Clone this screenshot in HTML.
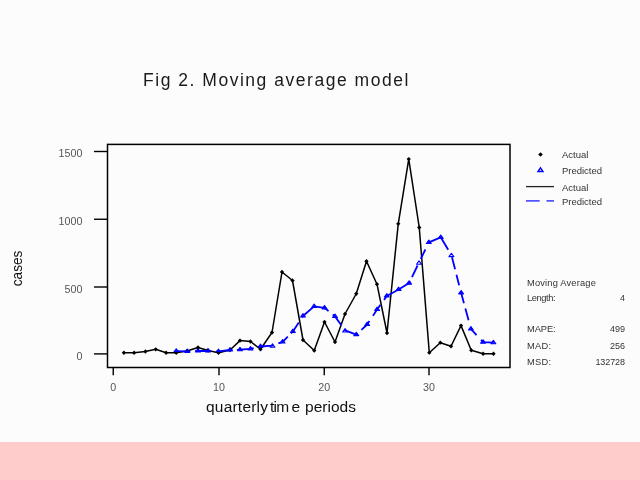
<!DOCTYPE html>
<html><head><meta charset="utf-8"><title>Fig 2</title>
<style>
html,body{margin:0;padding:0}
body{width:640px;height:480px;position:relative;overflow:hidden;background:#fcfcfc;font-family:"Liberation Sans",sans-serif}
#band{position:absolute;left:0;top:442px;width:640px;height:38px;background:#ffcccc}
</style></head><body>
<div id="band"></div>
<svg width="640" height="480" viewBox="0 0 640 480" style="position:absolute;left:0;top:0;will-change:transform;font-family:'Liberation Sans',sans-serif">
<rect x="107.5" y="144.4" width="402.5" height="223.1" fill="none" stroke="#000" stroke-width="1.5"/>
<line x1="94" y1="151.5" x2="107.5" y2="151.5" stroke="#000" stroke-width="1.4"/>
<line x1="94" y1="219.25" x2="107.5" y2="219.25" stroke="#000" stroke-width="1.4"/>
<line x1="94" y1="287" x2="107.5" y2="287" stroke="#000" stroke-width="1.4"/>
<line x1="94" y1="353.9" x2="107.5" y2="353.9" stroke="#000" stroke-width="1.4"/>
<line x1="113.25" y1="367.5" x2="113.25" y2="375.3" stroke="#000" stroke-width="1.4"/>
<line x1="219" y1="367.5" x2="219" y2="375.3" stroke="#000" stroke-width="1.4"/>
<line x1="324.25" y1="367.5" x2="324.25" y2="375.3" stroke="#000" stroke-width="1.4"/>
<line x1="429" y1="367.5" x2="429" y2="375.3" stroke="#000" stroke-width="1.4"/>
<text x="58.60" y="157.40" font-size="11.5" fill="#555" textLength="23.80" lengthAdjust="spacingAndGlyphs">1500</text>
<text x="58.60" y="225.15" font-size="11.5" fill="#555" textLength="23.80" lengthAdjust="spacingAndGlyphs">1000</text>
<text x="64.55" y="292.90" font-size="11.5" fill="#555" textLength="17.85" lengthAdjust="spacingAndGlyphs">500</text>
<text x="76.45" y="359.80" font-size="11.5" fill="#555" textLength="5.95" lengthAdjust="spacingAndGlyphs">0</text>
<text x="110.28" y="390.6" font-size="11.5" fill="#555" textLength="5.95" lengthAdjust="spacingAndGlyphs">0</text>
<text x="213.05" y="390.6" font-size="11.5" fill="#555" textLength="11.90" lengthAdjust="spacingAndGlyphs">10</text>
<text x="318.30" y="390.6" font-size="11.5" fill="#555" textLength="11.90" lengthAdjust="spacingAndGlyphs">20</text>
<text x="423.05" y="390.6" font-size="11.5" fill="#555" textLength="11.90" lengthAdjust="spacingAndGlyphs">30</text>
<g fill="#000">
<path d="M123.90,350.60L126.05,352.75L123.90,354.90L121.75,352.75Z"/>
<path d="M134.10,350.60L136.25,352.75L134.10,354.90L131.95,352.75Z"/>
<path d="M145.40,349.35L147.55,351.50L145.40,353.65L143.25,351.50Z"/>
<path d="M155.75,347.15L157.90,349.30L155.75,351.45L153.60,349.30Z"/>
<path d="M166.10,350.60L168.25,352.75L166.10,354.90L163.95,352.75Z"/>
<path d="M176.25,350.60L178.40,352.75L176.25,354.90L174.10,352.75Z"/>
<path d="M187.00,348.85L189.15,351.00L187.00,353.15L184.85,351.00Z"/>
<path d="M198.00,345.35L200.15,347.50L198.00,349.65L195.85,347.50Z"/>
<path d="M208.00,348.35L210.15,350.50L208.00,352.65L205.85,350.50Z"/>
<path d="M218.50,350.60L220.65,352.75L218.50,354.90L216.35,352.75Z"/>
<path d="M230.00,347.85L232.15,350.00L230.00,352.15L227.85,350.00Z"/>
<path d="M240.00,338.45L242.15,340.60L240.00,342.75L237.85,340.60Z"/>
<path d="M250.50,339.35L252.65,341.50L250.50,343.65L248.35,341.50Z"/>
<path d="M260.50,347.10L262.65,349.25L260.50,351.40L258.35,349.25Z"/>
<path d="M272.00,330.35L274.15,332.50L272.00,334.65L269.85,332.50Z"/>
<path d="M282.00,269.85L284.15,272.00L282.00,274.15L279.85,272.00Z"/>
<path d="M292.50,278.35L294.65,280.50L292.50,282.65L290.35,280.50Z"/>
<path d="M303.00,337.85L305.15,340.00L303.00,342.15L300.85,340.00Z"/>
<path d="M314.25,348.35L316.40,350.50L314.25,352.65L312.10,350.50Z"/>
<path d="M324.50,319.85L326.65,322.00L324.50,324.15L322.35,322.00Z"/>
<path d="M335.00,339.85L337.15,342.00L335.00,344.15L332.85,342.00Z"/>
<path d="M345.00,311.85L347.15,314.00L345.00,316.15L342.85,314.00Z"/>
<path d="M356.25,291.60L358.40,293.75L356.25,295.90L354.10,293.75Z"/>
<path d="M366.50,259.10L368.65,261.25L366.50,263.40L364.35,261.25Z"/>
<path d="M377.00,282.05L379.15,284.20L377.00,286.35L374.85,284.20Z"/>
<path d="M387.00,330.85L389.15,333.00L387.00,335.15L384.85,333.00Z"/>
<path d="M398.25,221.65L400.40,223.80L398.25,225.95L396.10,223.80Z"/>
<path d="M408.75,156.95L410.90,159.10L408.75,161.25L406.60,159.10Z"/>
<path d="M419.25,225.35L421.40,227.50L419.25,229.65L417.10,227.50Z"/>
<path d="M429.30,350.55L431.45,352.70L429.30,354.85L427.15,352.70Z"/>
<path d="M440.30,340.55L442.45,342.70L440.30,344.85L438.15,342.70Z"/>
<path d="M451.00,344.10L453.15,346.25L451.00,348.40L448.85,346.25Z"/>
<path d="M461.00,323.45L463.15,325.60L461.00,327.75L458.85,325.60Z"/>
<path d="M471.25,348.10L473.40,350.25L471.25,352.40L469.10,350.25Z"/>
<path d="M483.10,351.60L485.25,353.75L483.10,355.90L480.95,353.75Z"/>
<path d="M493.50,351.60L495.65,353.75L493.50,355.90L491.35,353.75Z"/>
</g>
<g fill="#0000ff" stroke="#0000ff" stroke-width="1.1" stroke-linejoin="round">
<path d="M176.25,348.75L178.70,352.15L173.80,352.15Z" fill-opacity="0.75"/>
<path d="M187.30,349.05L189.75,352.45L184.85,352.45Z" fill-opacity="0.75"/>
<path d="M198.00,348.65L200.45,352.05L195.55,352.05Z" fill-opacity="0.75"/>
<path d="M208.00,348.65L210.45,352.05L205.55,352.05Z" fill-opacity="0.75"/>
<path d="M218.50,349.05L220.95,352.45L216.05,352.45Z" fill-opacity="0.75"/>
<path d="M230.00,347.65L232.45,351.05L227.55,351.05Z" fill-opacity="0.75"/>
<path d="M240.00,347.35L242.45,350.75L237.55,350.75Z" fill-opacity="0.75"/>
<path d="M250.50,346.55L252.95,349.95L248.05,349.95Z" fill-opacity="0.75"/>
<path d="M260.50,344.15L262.95,347.55L258.05,347.55Z" fill-opacity="0.75"/>
<path d="M272.50,343.85L274.95,347.25L270.05,347.25Z" fill-opacity="0.05"/>
<path d="M282.60,339.55L285.05,342.95L280.15,342.95Z" fill-opacity="0.75"/>
<path d="M292.90,329.15L295.35,332.55L290.45,332.55Z" fill-opacity="0.75"/>
<path d="M303.00,313.65L305.45,317.05L300.55,317.05Z" fill-opacity="0.75"/>
<path d="M314.10,304.05L316.55,307.45L311.65,307.45Z" fill-opacity="0.75"/>
<path d="M324.50,305.45L326.95,308.85L322.05,308.85Z" fill-opacity="0.75"/>
<path d="M335.00,314.05L337.45,317.45L332.55,317.45Z" fill-opacity="0.75"/>
<path d="M345.10,328.65L347.55,332.05L342.65,332.05Z" fill-opacity="0.05"/>
<path d="M356.30,332.25L358.75,335.65L353.85,335.65Z" fill-opacity="0.75"/>
<path d="M367.20,322.15L369.65,325.55L364.75,325.55Z" fill-opacity="0.75"/>
<path d="M377.10,307.15L379.55,310.55L374.65,310.55Z" fill-opacity="0.75"/>
<path d="M386.80,293.65L389.25,297.05L384.35,297.05Z" fill-opacity="0.75"/>
<path d="M398.60,287.15L401.05,290.55L396.15,290.55Z" fill-opacity="0.75"/>
<path d="M409.10,280.75L411.55,284.15L406.65,284.15Z" fill-opacity="0.75"/>
<path d="M419.00,260.85L421.45,264.25L416.55,264.25Z" fill-opacity="0.05"/>
<path d="M428.80,240.05L431.25,243.45L426.35,243.45Z" fill-opacity="0.75"/>
<path d="M440.75,234.95L443.20,238.35L438.30,238.35Z" fill-opacity="0.75"/>
<path d="M451.40,253.25L453.85,256.65L448.95,256.65Z" fill-opacity="0.05"/>
<path d="M461.10,290.45L463.55,293.85L458.65,293.85Z" fill-opacity="0.75"/>
<path d="M470.90,326.55L473.35,329.95L468.45,329.95Z" fill-opacity="0.75"/>
<path d="M483.10,339.75L485.55,343.15L480.65,343.15Z" fill-opacity="0.75"/>
<path d="M493.40,340.35L495.85,343.75L490.95,343.75Z" fill-opacity="0.75"/>
</g>
<polyline points="123.90,352.75 134.10,352.75 145.40,351.50 155.75,349.30 166.10,352.75 176.25,352.75 187.00,351.00 198.00,347.50 208.00,350.50 218.50,352.75 230.00,350.00 240.00,340.60 250.50,341.50 260.50,349.25 272.00,332.50 282.00,272.00 292.50,280.50 303.00,340.00 314.25,350.50 324.50,322.00 335.00,342.00 345.00,314.00 356.25,293.75 366.50,261.25 377.00,284.20 387.00,333.00 398.25,223.80 408.75,159.10 419.25,227.50 429.30,352.70 440.30,342.70 451.00,346.25 461.00,325.60 471.25,350.25 483.10,353.75 493.50,353.75" fill="none" stroke="#000" stroke-width="1.5" stroke-linejoin="round"/>
<polyline points="176.25,351.10 187.30,351.40 198.00,351.00 208.00,351.00 218.50,351.40 230.00,350.00 240.00,349.70 250.50,348.90 260.50,346.50 272.50,345.60 282.60,341.90 292.90,331.50 303.00,316.00 314.10,306.40 324.50,307.80 335.00,316.40 345.10,330.40 356.30,334.60 367.20,324.50 377.10,309.50 386.80,296.00 398.60,289.50 409.10,283.10 419.00,262.60 428.80,242.40 440.75,237.30 451.40,255.00 461.10,292.80 470.90,328.90 483.10,342.10 493.40,342.70" fill="none" stroke="#0000ff" stroke-width="1.8" stroke-dasharray="14.07 4.70 15.97 5.01 16.62 4.40 16.91 4.85 15.22 5.19 11.95 4.46 13.55 5.99 32.09 5.46 13.78 5.39 14.59 5.32 11.96 6.43 13.17 6.18 32.63 4.51 12.93 7.24 10.56 6.89 28.44 8.57 12.44 5.53 10.86 6.67 12.06 5.42 12.23 7.91 9.28 6.62 18.31 0.00" stroke-linejoin="round"/>
<g fill="#000"><path d="M540.50,152.20L542.80,154.50L540.50,156.80L538.20,154.50Z"/></g>
<g fill="#fff" stroke="#0000ff" stroke-width="1.4"><path d="M540.50,167.80L543.00,171.50L538.00,171.50Z"/></g>
<line x1="526" y1="186.6" x2="554" y2="186.6" stroke="#222" stroke-width="1.3"/>
<line x1="526" y1="200.9" x2="539.7" y2="200.9" stroke="#2a2aff" stroke-width="1.4"/>
<line x1="546.5" y1="200.9" x2="554" y2="200.9" stroke="#2a2aff" stroke-width="1.4"/>
<text x="562" y="158.4" font-size="9.5" fill="#333" textLength="26.4" lengthAdjust="spacing">Actual</text>
<text x="562" y="174" font-size="9.5" fill="#333" textLength="40" lengthAdjust="spacing">Predicted</text>
<text x="562" y="190.9" font-size="9.5" fill="#333" textLength="26.4" lengthAdjust="spacing">Actual</text>
<text x="562" y="204.6" font-size="9.5" fill="#333" textLength="40" lengthAdjust="spacing">Predicted</text>
<text x="527" y="285.9" font-size="9.3" fill="#333" textLength="68.8" lengthAdjust="spacing">Moving Average</text>
<text x="527" y="300.9" font-size="9.3" fill="#333" textLength="28.6" lengthAdjust="spacing">Length:</text>
<text x="625" y="300.9" font-size="9" fill="#333" text-anchor="end">4</text>
<text x="527" y="332.25" font-size="9.3" fill="#333" textLength="28.6" lengthAdjust="spacing">MAPE:</text>
<text x="625" y="332.25" font-size="9" fill="#333" text-anchor="end">499</text>
<text x="527" y="348.75" font-size="9.3" fill="#333" textLength="24" lengthAdjust="spacing">MAD:</text>
<text x="625" y="348.75" font-size="9" fill="#333" text-anchor="end">256</text>
<text x="527" y="364.7" font-size="9.3" fill="#333" textLength="24" lengthAdjust="spacing">MSD:</text>
<text x="625" y="364.7" font-size="9" fill="#333" text-anchor="end" textLength="29.6" lengthAdjust="spacing">132728</text>
<text x="143" y="85.8" font-size="17.5" fill="#1a1a1a" textLength="265.3" lengthAdjust="spacing">Fig 2. Moving average model</text>
<g font-size="15.5" fill="#111">
<text x="206" y="412" textLength="62" lengthAdjust="spacing">quarterly</text>
<text x="270" y="412" textLength="19.2" lengthAdjust="spacing">tim</text>
<text x="291.6" y="412">e</text>
<text x="305" y="412" textLength="51" lengthAdjust="spacing">periods</text>
</g>
<text transform="translate(22.3,286.2) rotate(-90)" font-size="15" fill="#111" textLength="35.5" lengthAdjust="spacingAndGlyphs">cases</text>
</svg>
</body></html>
